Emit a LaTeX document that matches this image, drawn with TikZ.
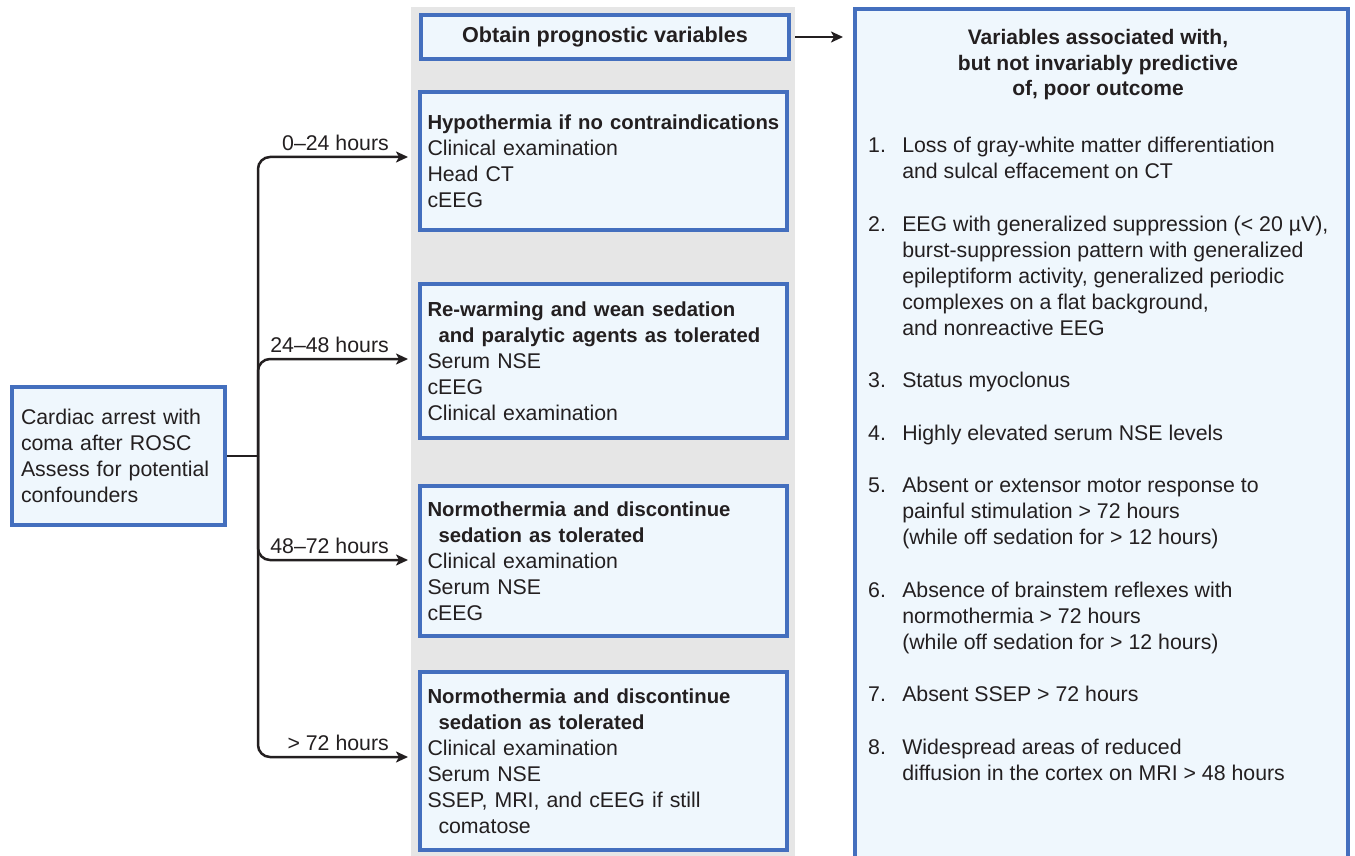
\documentclass[tikz,border=0pt]{standalone}
\usepackage{fontspec}
\setmainfont{Liberation Sans}
\usepackage{tikz}
\usetikzlibrary{positioning, arrows.meta}
\definecolor{boxblue}{RGB}{68,111,190}
\definecolor{boxfill}{RGB}{239,247,253}
\definecolor{bandgray}{RGB}{230,230,230}
\definecolor{ink}{RGB}{35,31,32}
\newcommand{\hd}[1]{{\fontsize{20.3}{26}\selectfont\bfseries #1}}

\begin{document}
\begin{tikzpicture}[x=1pt, y=-1pt,
  every node/.style={inner sep=0pt, text=ink, font=\fontsize{21.3}{26}\selectfont},
  box/.style={draw=boxblue, fill=boxfill, line width=4pt, inner xsep=7.5pt, align=left},
  link/.style={draw=ink, line width=2.5pt},
  arrow/.style={link, -{Stealth[length=12pt, width=11pt, inset=3pt]}, shorten >=10pt},
  when/.style={anchor=base east}]
\useasboundingbox (0,0) rectangle (1355,856);
\fill [bandgray] (411,7) rectangle (795,870);
\node [box, text width=195pt, inner xsep=9pt, minimum height=138pt] (cardiac) at (118.5,456) {Cardiac arrest with\\coma after ROSC\\Assess for potential\\confounders};
\node [box, minimum width=368pt, minimum height=44pt, align=center, font=\fontsize{21.6}{26}\selectfont\bfseries] (obtain) at (605,37) {Obtain prognostic variables};
\node [box, text width=352pt, minimum height=138pt] (hypo) at (603.5,161) {\hd{\mbox{Hypothermia if no contraindications}}\\Clinical examination\\Head CT\\cEEG};
\node [box, text width=352pt, minimum height=154pt] (rewarm) at (603.5,361) {\hd{Re-warming and wean sedation\\\hspace*{11pt}\mbox{and paralytic agents as tolerated}}\\Serum NSE\\cEEG\\Clinical examination};
\node [box, text width=352pt, minimum height=150pt] (normo) at (603.5,561) {\hd{Normothermia and discontinue\\\hspace*{11pt}sedation as tolerated}\\Clinical examination\\Serum NSE\\cEEG};
\node [box, text width=352pt, minimum height=178pt] (late) at (603.5,761) {\hd{Normothermia and discontinue\\\hspace*{11pt}sedation as tolerated}\\Clinical examination\\Serum NSE\\SSEP, MRI, and cEEG if still\\\hspace*{11pt}comatose};
\node [box, minimum width=493pt, minimum height=871pt] (vars) at (1101.5,444.5) {};
\node [anchor=base, font=\fontsize{21}{25.5}\selectfont\bfseries] (vtitle) at (1098,45) {\begin{tabular}[t]{@{}c@{}}Variables associated with,\\but not invariably predictive\\of, poor outcome\end{tabular}};
\node [anchor=base west] (vlist) at (868,153) {\begin{tabular}[t]{@{}l@{\hspace{16.3pt}}l@{}}
1. & Loss of gray-white matter differentiation\\
   & and sulcal effacement on CT\\[26.5pt]
2. & EEG with generalized suppression (< 20 µV),\\
   & burst-suppression pattern with generalized\\
   & epileptiform activity, generalized periodic\\
   & complexes on a flat background,\\
   & and nonreactive EEG\\[26.5pt]
3. & Status myoclonus\\[26.5pt]
4. & Highly elevated serum NSE levels\\[26.5pt]
5. & Absent or extensor motor response to\\
   & painful stimulation > 72 hours\\
   & (while off sedation for > 12 hours)\\[26.5pt]
6. & Absence of brainstem reflexes with\\
   & normothermia > 72 hours\\
   & (while off sedation for > 12 hours)\\[26.5pt]
7. & Absent SSEP > 72 hours\\[26.5pt]
8. & Widespread areas of reduced\\
   & diffusion in the cortex on MRI > 48 hours
\end{tabular}};
\coordinate (jn) at (258,456);
\node [when] (t1) at (389,150.5) {0–24 hours};
\node [when] (t2) at (389,352.5) {24–48 hours};
\node [when] (t3) at (389,553.5) {48–72 hours};
\node [when] (t4) at (389,750.5) {> 72 hours};
\draw [link] (cardiac.east) -- (jn);
\draw [arrow, rounded corners=12pt] (jn) |- ([yshift=4pt]hypo.west);
\draw [arrow, rounded corners=12pt] (jn) |- ([yshift=2pt]rewarm.west);
\draw [arrow, rounded corners=12pt] (jn) |- ([yshift=1pt]normo.west);
\draw [arrow, rounded corners=12pt] (jn) |- ([yshift=4pt]late.west);
\draw [arrow, shorten <=4pt] (obtain.east) -- (obtain.east -| vars.west);
\end{tikzpicture}
\end{document}
